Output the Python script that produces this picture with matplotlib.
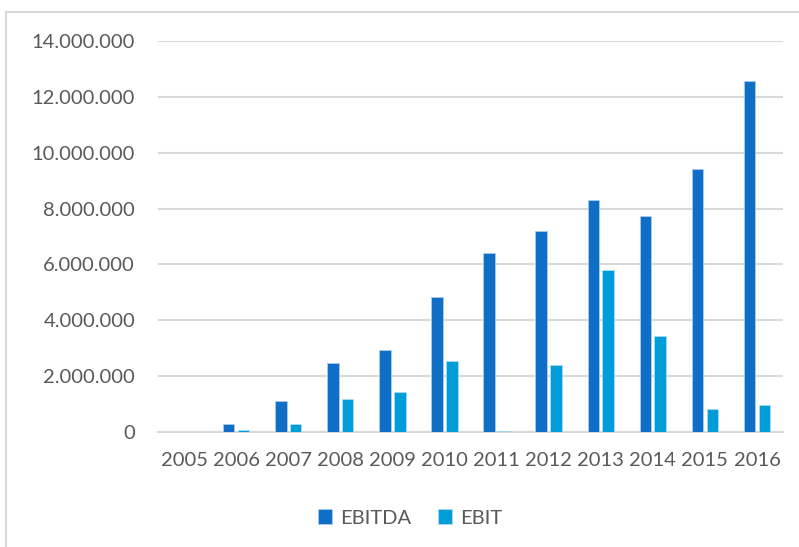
import matplotlib.pyplot as plt
import matplotlib.patches as mpatches
import matplotlib.ticker as mticker
import numpy as np

years = ['2005', '2006', '2007', '2008', '2009', '2010',
         '2011', '2012', '2013', '2014', '2015', '2016']
ebitda = [0, 310000, 1110000, 2480000, 2960000, 4820000,
          6410000, 7180000, 8310000, 7750000, 9430000, 12570000]
ebit = [0, 80000, 310000, 1180000, 1430000, 2540000,
        40000, 2400000, 5790000, 3450000, 830000, 975000]

plt.rcParams['font.family'] = ['Lato', 'DejaVu Sans']
txt = '#595959'
grid = '#D9D9D9'

W, H = 799, 547
fig = plt.figure(figsize=(W / 100, H / 100), dpi=100)

# outer chart frame (cut off at right and bottom like the source)
fig.patches.append(mpatches.Rectangle((6 / W, -0.1), 1.1, (H - 12) / H + 0.1,
                                      transform=fig.transFigure, fill=False,
                                      edgecolor=grid, linewidth=1.5))

ax = fig.add_axes([158 / W, (H - 432.3) / H, (783 - 158) / W, (432.3 - 40.7) / H])

x = np.arange(len(years))
w = 0.22
off = 0.1425
ax.bar(x - off, ebitda, w, color='#0F6FC6', edgecolor='#A9CDEB', linewidth=0.6,
       label='EBITDA', zorder=3)
ax.bar(x + off, ebit, w, color='#009DD9', edgecolor='#A9DDF0', linewidth=0.6,
       label='EBIT', zorder=3)

ax.set_xlim(-0.5, len(years) - 0.5)
ax.set_ylim(0, 14000000)
ax.yaxis.set_major_locator(mticker.MultipleLocator(2000000))
ax.yaxis.set_major_formatter(mticker.FuncFormatter(lambda v, p: f'{int(v):,}'.replace(',', '.')))
ax.set_xticks(x)
ax.set_xticklabels(years)

ax.grid(axis='y', color=grid, linewidth=1.5, zorder=0)
for s in ['top', 'right', 'left']:
    ax.spines[s].set_visible(False)
ax.spines['bottom'].set_color(grid)
ax.spines['bottom'].set_linewidth(1.5)
ax.tick_params(axis='both', length=0, labelsize=14.5, labelcolor=txt)
ax.tick_params(axis='y', pad=16.5)
ax.tick_params(axis='x', pad=14)

ax.legend(loc='center', bbox_to_anchor=(410 / W, (H - 518) / H),
          bbox_transform=fig.transFigure, ncol=2, frameon=False,
          fontsize=14.5, labelcolor=txt, handlelength=0.7, handleheight=0.7,
          handletextpad=0.4, columnspacing=1.3)

fig.savefig('out.png', dpi=100)
